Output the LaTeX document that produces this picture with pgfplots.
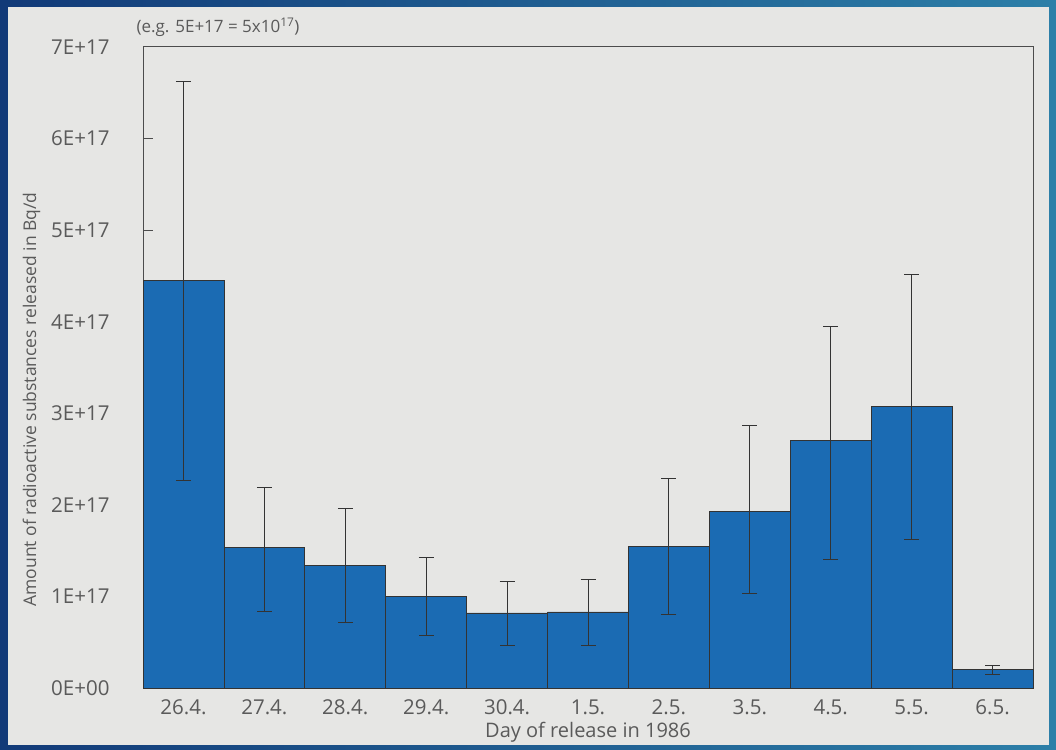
\documentclass[border=0pt]{standalone}
\usepackage{fontspec}
\setmainfont{Open Sans}
\usepackage{pgfplots}
\pgfplotsset{compat=1.18}
\definecolor{barblue}{HTML}{1B6BB3}
\definecolor{navy}{HTML}{123A78}
\definecolor{tealc}{HTML}{2C7FA8}
\definecolor{paper}{HTML}{E6E6E4}
\definecolor{txt}{HTML}{5A5A5A}
\begin{document}
\begin{tikzpicture}[x=1pt,y=1pt]
\shade[left color=navy, right color=tealc] (0,0) rectangle (1056,749);
\fill[paper] (8,4) rectangle (1049,742);
\useasboundingbox (0,0) rectangle (1056,749);
\begin{axis}[
  at={(143pt,61pt)}, anchor=south west,
  scale only axis, width=890pt, height=641pt,
  xmin=-0.5, xmax=10.5, ymin=0, ymax=7,
  ybar, bar width=1,
  xtick={0,...,10},
  xticklabels={26.4.,27.4.,28.4.,29.4.,30.4.,1.5.,2.5.,3.5.,4.5.,5.5.,6.5.},
  ytick={0,...,6},
  extra y ticks={7}, extra y tick style={major tick length=0pt},
  yticklabels={0E+00,1E+17,2E+17,3E+17,4E+17,5E+17,6E+17},
  extra y tick labels={7E+17},
  xtick style={draw=none},
  ytick pos=left,
  ytick style={draw=black!70, line width=0.8pt},
  major tick length=10pt, tick align=inside,
  axis line style={draw=black!70, line width=1pt},
  ticklabel style={font=\fontsize{20.5}{24}\selectfont, text=txt},
  yticklabel style={xshift=-30pt},
  xticklabel style={yshift=-8pt},
  xlabel={Day of release in 1986},
  ylabel={Amount of radioactive substances released in Bq/d},
  label style={text=txt},
  xlabel style={font=\fontsize{20}{24}\selectfont, yshift=-1pt},
  ylabel style={font=\fontsize{17.5}{21}\selectfont, yshift=4pt, xshift=-32pt},
  clip=false,
]
\addplot[fill=barblue, draw=black!80, line width=0.8pt,
  error bars/.cd, y dir=both, y explicit,
  error bar style={draw=black!80, line width=1pt},
  error mark options={rotate=90, draw=black!80, line width=1pt, mark size=7.5pt}]
coordinates {
  (0,4.45)  += (0,2.17) -= (0,2.18)
  (1,1.53)  += (0,0.66) -= (0,0.70)
  (2,1.34)  += (0,0.62) -= (0,0.63)
  (3,1.00)  += (0,0.42) -= (0,0.43)
  (4,0.82)  += (0,0.34) -= (0,0.36)
  (5,0.83)  += (0,0.36) -= (0,0.37)
  (6,1.55)  += (0,0.74) -= (0,0.75)
  (7,1.93)  += (0,0.94) -= (0,0.90)
  (8,2.70)  += (0,1.25) -= (0,1.30)
  (9,3.07)  += (0,1.45) -= (0,1.45)
  (10,0.20) += (0,0.05) -= (0,0.05)
};
\end{axis}
\node[anchor=west, font=\fontsize{17}{20}\selectfont, text=txt] at (133,722) {(e.g. 5E+17 = 5x10\textsuperscript{17})};
\end{tikzpicture}
\end{document}
